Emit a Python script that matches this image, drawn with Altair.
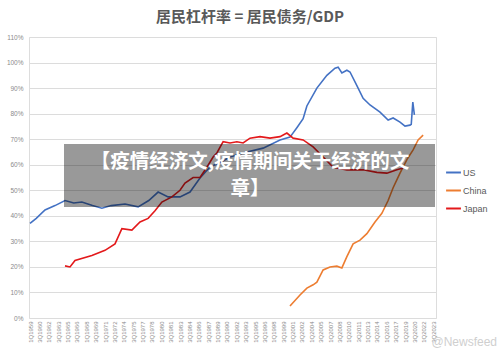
import altair as alt
import pandas as pd

# ---- data ----
us_year = [1959.0, 1960.0, 1961.4, 1963.0, 1964.6, 1966.0, 1967.3, 1969.0, 1970.5, 1972.0,
           1974.2, 1976.3, 1978.0, 1979.5, 1981.1, 1983.0, 1984.6, 1986.2, 1987.8, 1989.5,
           1991.0, 1993.7, 1996.3, 1999.0, 2000.6, 2001.7, 2002.7, 2003.3, 2004.9, 2006.5,
           2007.8, 2008.3, 2008.9, 2009.7, 2010.2, 2011.3, 2012.3, 2013.4, 2015.0, 2016.3,
           2017.1, 2018.2, 2019.0, 2019.8, 2020.0, 2020.25, 2020.5]
us_val = [37.0, 39.0, 42.3, 44.0, 46.0, 45.0, 45.4, 44.0, 43.0, 44.0,
          44.6, 43.5, 46.0, 49.3, 47.4, 47.4, 49.3, 54.8, 59.1, 61.0,
          63.0, 65.0, 66.5, 69.7, 70.8, 74.5, 78.0, 83.0, 90.0, 95.0,
          97.8, 98.2, 95.9, 97.0, 96.3, 91.0, 86.0, 83.4, 80.6, 77.5,
          78.3, 76.7, 75.1, 75.5, 75.8, 84.5, 79.5]

china_year = [2000.6, 2002.2, 2003.3, 2004.3, 2004.9, 2005.9, 2007.0, 2008.1, 2008.9, 2009.7,
              2010.7, 2011.8, 2012.9, 2014.2, 2015.3, 2016.3, 2017.1, 2018.2, 2019.3, 2020.3,
              2021.1, 2021.9]
china_val = [4.7, 9.0, 11.7, 13.0, 14.0, 18.8, 20.0, 20.3, 19.6, 24.0,
             29.0, 30.5, 33.0, 37.6, 41.0, 46.0, 51.0, 56.7, 62.0, 65.8,
             69.7, 71.6]

japan_year = [1964.6, 1965.4, 1966.2, 1968.9, 1971.0, 1972.6, 1973.7, 1975.3, 1976.6, 1977.9,
              1979.0, 1980.1, 1981.7, 1983.0, 1983.8, 1985.1, 1986.2, 1987.3, 1988.3, 1988.9,
              1989.9, 1991.0, 1992.1, 1993.1, 1994.2, 1995.8, 1997.4, 1999.0, 2000.1, 2001.1,
              2002.7, 2004.3, 2005.9, 2007.5, 2009.7, 2012.3, 2014.5, 2016.1, 2017.7, 2018.7]
japan_val = [20.4, 20.0, 22.5, 24.5, 26.5, 29.0, 35.0, 34.4, 37.6, 39.0,
             42.0, 45.4, 47.4, 50.0, 52.8, 55.0, 55.0, 59.0, 63.0, 64.6,
             69.0, 68.5, 69.0, 68.5, 70.4, 71.0, 70.4, 71.0, 72.4, 70.4,
             69.7, 67.0, 63.0, 59.0, 58.0, 58.0, 57.0, 56.7, 58.0, 58.7]

series_names = ["US", "China", "Japan"]
series_colors = ["#4472C4", "#ED7D31", "#E3191B"]

tick_labels = ["1Q1959", "3Q1960", "1Q1962", "3Q1963", "1Q1965", "3Q1966", "1Q1968", "3Q1969",
               "1Q1971", "3Q1972", "1Q1974", "3Q1975", "1Q1977", "3Q1978", "1Q1980", "3Q1981",
               "1Q1983", "3Q1984", "1Q1986", "3Q1987", "1Q1989", "3Q1990", "1Q1992", "3Q1993",
               "1Q1995", "3Q1996", "1Q1998", "3Q1999", "1Q2001", "3Q2002", "1Q2004", "3Q2005",
               "1Q2007", "3Q2008", "1Q2010", "3Q2011", "1Q2013", "3Q2014", "1Q2016", "3Q2017",
               "1Q2019", "3Q2020", "1Q2022", "3Q2023"]
y_ticks = [0, 10, 20, 30, 40, 50, 60, 70, 80, 90, 100, 110]

title_text = "居民杠杆率 = 居民债务/GDP"
banner_line1 = "【疫情经济文,疫情期间关于经济的文"
banner_line2 = "章】"
watermark = "@Newsfeed"

# ---- build table ----
rows = []
for name, ys, vs in [("US", us_year, us_val), ("China", china_year, china_val), ("Japan", japan_year, japan_val)]:
    for t, v in zip(ys, vs):
        rows.append({"series": name, "t": t, "v": v})
df = pd.DataFrame(rows)

tick_values = [int(s[2:]) + (0.5 if s[0] == "3" else 0.0) for s in tick_labels]

W, H = 407, 281

x_enc = alt.X("t:Q", scale=alt.Scale(domain=[1958.84, 2023.96], nice=False, zero=False),
              axis=alt.Axis(values=tick_values,
                            labelExpr="(datum.value % 1 == 0 ? '1Q' : '3Q') + floor(datum.value)",
                            labelAngle=-90, labelFontSize=6, labelColor="#8a8a8a", labelFont="Liberation Sans",
                            labelPadding=3, ticks=False, domain=False, grid=False, title=None,
                            labelOverlap=False, labelFlush=False, labelBound=False))
y_enc = alt.Y("v:Q", scale=alt.Scale(domain=[0, 110], nice=False),
              axis=alt.Axis(values=y_ticks, labelExpr="datum.value + '%'", labelFontSize=6.5,
                            labelColor="#8a8a8a", labelFont="Liberation Sans", labelPadding=6,
                            ticks=False, domain=False, grid=True, gridColor="#dcdcdc",
                            gridWidth=1, title=None))

lines = alt.Chart(df).mark_line(strokeWidth=1.6).encode(
    x=x_enc, y=y_enc,
    color=alt.Color("series:N",
                    scale=alt.Scale(domain=series_names, range=series_colors),
                    legend=alt.Legend(title=None, orient="none", legendX=416, legendY=127,
                                      symbolType="stroke", symbolStrokeWidth=2, symbolSize=220,
                                      labelFontSize=9, labelColor="#595959", labelFont="Liberation Sans",
                                      rowPadding=4, labelOffset=1)),
    detail="series:N",
)

title = alt.Chart(pd.DataFrame({"s": [title_text]})).mark_text(
    fontSize=15, font="Noto Sans CJK SC", fontWeight="bold", color="#595959", align="center", baseline="middle"
).encode(x=alt.value(221), y=alt.value(-20), text="s:N")

banner = alt.Chart(pd.DataFrame({"a": [0]})).mark_rect(color="black", opacity=0.4).encode(
    x=alt.value(35), x2=alt.value(406), y=alt.value(107), y2=alt.value(170))

btext = alt.Chart(pd.DataFrame({"s": [banner_line1, banner_line2], "yy": [125, 152]})).mark_text(
    fontSize=19.5, font="Noto Sans CJK SC", fontWeight="bold", color="white", align="center", baseline="middle"
).encode(x=alt.value(221), y=alt.Y("yy:Q", scale=None), text="s:N")

wm = alt.Chart(pd.DataFrame({"s": [watermark]})).mark_text(
    fontSize=12, font="Liberation Sans", color="#cfcfcf", align="right", baseline="middle"
).encode(x=alt.value(468), y=alt.value(305), text="s:N")

chart = alt.layer(lines, banner, btext, title, wm).properties(
    width=W, height=H,
    autosize=alt.AutoSizeParams(type="none"),
    padding={"left": 29, "top": 37, "right": 64, "bottom": 33},
).configure_view(stroke=None).configure(background="white")

chart.save("out.html", embed_options={"renderer": "svg", "actions": False})
